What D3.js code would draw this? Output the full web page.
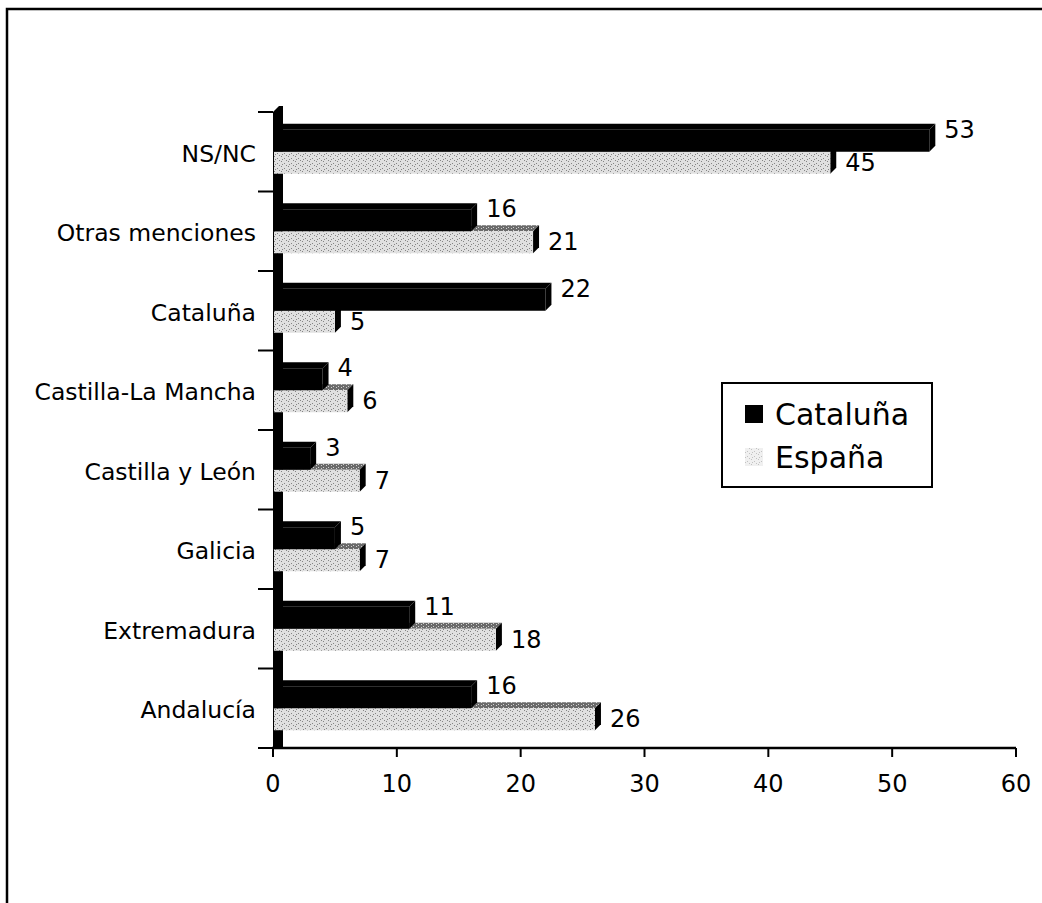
<!DOCTYPE html>
<html>
<head>
<meta charset="utf-8">
<script src="https://cdn.jsdelivr.net/npm/d3@7"></script>
<style>
  html, body { margin: 0; padding: 0; background: #fff; }
  svg { display: block; }
  text { font-family: 'DejaVu Sans', Verdana, sans-serif; fill: #000; }
</style>
</head>
<body>
<div id="chart"></div>
<script>
// bottom to top, as in the source sheet
const categories = ['Andalucía', 'Extremadura', 'Galicia', 'Castilla y León', 'Castilla-La Mancha', 'Cataluña', 'Otras menciones', 'NS/NC'];
const cataluna = [16, 11, 5, 3, 4, 22, 16, 53];
const espana = [26, 18, 7, 7, 6, 5, 21, 45];
const seriesNames = ['Cataluña', 'España'];
const xTicks = [0, 10, 20, 30, 40, 50, 60];

const width = 1042;
const height = 903;
const depth = 6;      // fake 3D offset (right / up)
const barH = 22;

const svg = d3.select('#chart').append('svg')
  .attr('width', width).attr('height', height);

// speckled fills for the light series
const defs = svg.append('defs');
const front = defs.append('pattern').attr('id', 'speckle')
  .attr('width', 7).attr('height', 5).attr('patternUnits', 'userSpaceOnUse');
front.append('rect').attr('width', 7).attr('height', 5).attr('fill', '#e0e0e0');
[[1, 1], [4, 3], [6, 0], [2, 4]].forEach(([px, py]) =>
  front.append('rect').attr('x', px).attr('y', py).attr('width', 1).attr('height', 1).attr('fill', '#858585'));
const topFace = defs.append('pattern').attr('id', 'speckleDark')
  .attr('width', 5).attr('height', 3).attr('patternUnits', 'userSpaceOnUse');
topFace.append('rect').attr('width', 5).attr('height', 3).attr('fill', '#6a6a6a');
[[1, 0], [3, 2]].forEach(([px, py]) =>
  topFace.append('rect').attr('x', px).attr('y', py).attr('width', 1).attr('height', 1).attr('fill', '#d0d0d0'));

// outer frame (only top and left edges are in the scan)
svg.append('path').attr('d', 'M7,903 L7,9 L1042,9')
  .attr('fill', 'none').attr('stroke', '#000').attr('stroke-width', 2.5);

const x = d3.scaleLinear().domain([0, 60]).range([273, 1016]);
const y = d3.scaleBand().domain(categories.slice().reverse()).range([112, 748]);

const x0 = x(0);
const yTop = y.range()[0];
const yBottom = y.range()[1];

// floor strip on the left
svg.append('path')
  .attr('d', `M${x0},${yTop} L${x0 + depth},${yTop - depth} L${x0 + 10},${yTop - depth} L${x0 + 10},${yBottom} L${x0},${yBottom} Z`)
  .attr('fill', '#000');

// category ticks on the left
const yTickYs = y.domain().map((c) => y(c)).concat([yBottom]);
svg.append('g').selectAll('line').data(yTickYs).join('line')
  .attr('x1', x0 - 15).attr('x2', x0)
  .attr('y1', (d) => d).attr('y2', (d) => d)
  .attr('stroke', '#000').attr('stroke-width', 2);

function faces(v, yF) {
  const xe = x(v);
  return {
    top: `M${x0},${yF} L${xe},${yF} L${xe + depth},${yF - depth} L${x0 + depth},${yF - depth} Z`,
    side: `M${xe},${yF} L${xe + depth},${yF - depth} L${xe + depth},${yF + barH - depth} L${xe},${yF + barH} Z`,
    front: [x0, yF, xe - x0, barH],
  };
}

const bars = svg.append('g');
const labels = svg.append('g');
categories.forEach((cat, i) => {
  const mid = y(cat) + y.bandwidth() / 2;
  const yDark = mid - barH;
  const yLight = mid;

  // light series (España) first
  const fl = faces(espana[i], yLight);
  bars.append('path').attr('d', fl.top).attr('fill', 'url(#speckleDark)');
  bars.append('path').attr('d', fl.side).attr('fill', '#000');
  bars.append('rect').attr('x', fl.front[0] + 1).attr('y', fl.front[1])
    .attr('width', fl.front[2] - 1).attr('height', fl.front[3]).attr('fill', 'url(#speckle)');

  // dark series (Cataluña) on top
  const fd = faces(cataluna[i], yDark);
  bars.append('path').attr('d', fd.top).attr('fill', '#000');
  bars.append('path').attr('d', fd.side).attr('fill', '#000');
  bars.append('rect').attr('x', fd.front[0]).attr('y', fd.front[1])
    .attr('width', fd.front[2]).attr('height', fd.front[3]).attr('fill', '#000');

  labels.append('text')
    .attr('x', x(cataluna[i]) + depth + 9).attr('y', yDark + barH / 2 - 11)
    .attr('dominant-baseline', 'central').attr('font-size', 24)
    .text(cataluna[i]);
  labels.append('text')
    .attr('x', x(espana[i]) + depth + 9).attr('y', yLight + barH / 2)
    .attr('dominant-baseline', 'central').attr('font-size', 24)
    .text(espana[i]);

  labels.append('text')
    .attr('x', 256).attr('y', mid + 2)
    .attr('text-anchor', 'end').attr('dominant-baseline', 'central')
    .attr('font-size', 23.5)
    .text(cat);
});

// value axis
const axis = svg.append('g');
axis.append('line')
  .attr('x1', x0 - 1).attr('x2', x(60)).attr('y1', yBottom).attr('y2', yBottom)
  .attr('stroke', '#000').attr('stroke-width', 2.5);
axis.selectAll('line.tick').data(xTicks).join('line').attr('class', 'tick')
  .attr('x1', (d) => x(d)).attr('x2', (d) => x(d))
  .attr('y1', yBottom).attr('y2', yBottom + 9)
  .attr('stroke', '#000').attr('stroke-width', 2);
axis.selectAll('text').data(xTicks).join('text')
  .attr('x', (d) => x(d)).attr('y', yBottom + 36)
  .attr('text-anchor', 'middle').attr('dominant-baseline', 'central')
  .attr('font-size', 24)
  .text((d) => d);

// legend
const legend = svg.append('g').attr('transform', 'translate(722,383)');
legend.append('rect').attr('width', 210).attr('height', 104)
  .attr('fill', '#fff').attr('stroke', '#000').attr('stroke-width', 2);
seriesNames.forEach((name, i) => {
  const ly = 31 + i * 43;
  legend.append('rect').attr('x', 23).attr('y', ly - 9).attr('width', 18).attr('height', 18)
    .attr('fill', i === 0 ? '#000' : 'url(#speckle)').attr('opacity', i === 0 ? 1 : 0.5);
  legend.append('text').attr('x', 53).attr('y', ly)
    .attr('dominant-baseline', 'central').attr('font-size', 30)
    .text(name);
});
</script>
</body>
</html>
